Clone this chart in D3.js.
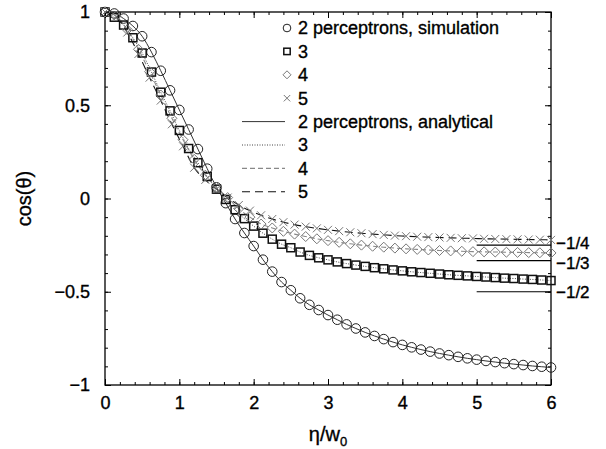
<!DOCTYPE html>
<html><head><meta charset="utf-8">
<script src="https://cdn.jsdelivr.net/npm/d3@7"></script>
<style>body{margin:0;background:#fff} text{font-family:"Liberation Sans",Arial,Helvetica,sans-serif;fill:#000;stroke:#000;stroke-width:0.35px}</style>
</head><body><svg id="c" width="606" height="449"></svg>
<script>
// eta grids (eta / w0)
const etaA = [0,0.125,0.25,0.375,0.5,0.625,0.75,0.875,1,1.125,1.25,1.375,1.5,1.625,1.75,1.875,2,2.125,2.25,2.375,2.5,2.625,2.75,2.875,3,3.125,3.25,3.375,3.5,3.625,3.75,3.875,4,4.125,4.25,4.375,4.5,4.625,4.75,4.875,5,5.125,5.25,5.375,5.5,5.625,5.75,5.875,6];
const etaB = [0,0.15,0.3,0.45,0.6,0.75,0.9,1.05,1.2,1.35,1.5,1.65,1.8,1.95,2.1,2.25,2.4,2.55,2.7,2.85,3,3.15,3.3,3.45,3.6,3.75,3.9,4.05,4.2,4.35,4.5,4.65,4.8,4.95,5.1,5.25,5.4,5.55,5.7,5.85,6];
// cos(theta), simulation (also traced by the analytical curves)
const sim2 = [1.000,0.992,0.965,0.925,0.870,0.785,0.685,0.580,0.475,0.370,0.265,0.160,0.060,-0.025,-0.110,-0.185,-0.255,-0.328,-0.392,-0.448,-0.492,-0.535,-0.570,-0.598,-0.625,-0.650,-0.675,-0.697,-0.718,-0.737,-0.754,-0.770,-0.785,-0.798,-0.810,-0.821,-0.831,-0.840,-0.849,-0.857,-0.864,-0.871,-0.877,-0.883,-0.888,-0.893,-0.898,-0.902,-0.906];
const sim3 = [1.000,0.972,0.930,0.862,0.780,0.678,0.570,0.470,0.365,0.268,0.192,0.118,0.050,-0.005,-0.060,-0.108,-0.148,-0.186,-0.218,-0.245,-0.264,-0.287,-0.305,-0.318,-0.329,-0.340,-0.349,-0.357,-0.364,-0.371,-0.377,-0.383,-0.388,-0.393,-0.397,-0.401,-0.405,-0.409,-0.412,-0.415,-0.418,-0.421,-0.424,-0.427,-0.429,-0.432,-0.434,-0.437,-0.440];
const sim4 = [1.000,0.978,0.905,0.800,0.680,0.555,0.430,0.315,0.210,0.125,0.060,0.005,-0.055,-0.100,-0.137,-0.158,-0.176,-0.191,-0.204,-0.216,-0.226,-0.235,-0.243,-0.250,-0.256,-0.261,-0.266,-0.270,-0.273,-0.276,-0.279,-0.281,-0.283,-0.285,-0.286,-0.287,-0.288,-0.289,-0.290,-0.291,-0.292];
const sim5 = [1.000,0.975,0.890,0.775,0.648,0.525,0.398,0.280,0.165,0.100,0.050,0.005,-0.035,-0.065,-0.090,-0.110,-0.127,-0.140,-0.151,-0.160,-0.168,-0.175,-0.181,-0.186,-0.191,-0.195,-0.199,-0.202,-0.205,-0.207,-0.209,-0.211,-0.213,-0.214,-0.216,-0.217,-0.218,-0.219,-0.220,-0.221,-0.222];
const analytic2 = sim2, analytic3 = sim3, analytic4 = sim4, analytic5 = sim5;
// asymptotes
const asymValues = [-1/4, -1/3, -1/2];
const asymLabels = ["\u22121/4", "\u22121/3", "\u22121/2"];
const asymRange = [5, 6];
// ticks
const xTicks = [0,1,2,3,4,5,6];
const xTickLabels = ["0","1","2","3","4","5","6"];
const yTicks = [-1,-0.5,0,0.5,1];
const yTickLabels = ["\u22121","\u22120.5","0","0.5","1"];
const legendLabels = ["2 perceptrons, simulation","3","4","5","2 perceptrons, analytical","3","4","5"];

const svg = d3.select("#c");
const L=105, R=551, T=12, B=385;
const x = d3.scaleLinear().domain([0,6]).range([L,R]);
const y = d3.scaleLinear().domain([-1,1]).range([B,T]);

// frame
svg.append("rect").attr("x",L).attr("y",T).attr("width",R-L).attr("height",B-T)
  .attr("fill","none").attr("stroke","#000").attr("stroke-width",1.3);

// ticks (inward) via axes
const xMinor = d3.range(0, 6.001, 0.2);
const yMinor = d3.range(-1, 1.001, 0.1);
function tickAxis(axisFn, scale, vals, size, tx, ty){
  const g = svg.append("g").attr("transform",`translate(${tx},${ty})`)
    .call(axisFn(scale).tickValues(vals).tickSize(size).tickFormat(""));
  g.select(".domain").remove();
  g.selectAll("line").attr("stroke","#000").attr("stroke-width",1);
}
tickAxis(d3.axisBottom, x, xMinor, -3, 0, B);
tickAxis(d3.axisBottom, x, xTicks, -6, 0, B);
tickAxis(d3.axisTop, x, xMinor, -3, 0, T);
tickAxis(d3.axisTop, x, xTicks, -6, 0, T);
tickAxis(d3.axisLeft, y, yMinor, -3, L, 0);
tickAxis(d3.axisLeft, y, yTicks, -6, L, 0);
tickAxis(d3.axisRight, y, yMinor, -3, R, 0);
tickAxis(d3.axisRight, y, yTicks, -6, R, 0);

// tick labels
const gx = svg.append("g").attr("transform",`translate(0,${B})`)
  .call(d3.axisBottom(x).tickValues(xTicks).tickSize(0).tickPadding(11).tickFormat((d,i)=>xTickLabels[i]));
gx.select(".domain").remove();
gx.selectAll("text").attr("font-size",18).attr("font-family",null).attr("fill",null);
const gy = svg.append("g").attr("transform",`translate(${L},0)`)
  .call(d3.axisLeft(y).tickValues(yTicks).tickSize(0).tickPadding(15).tickFormat((d,i)=>yTickLabels[i]));
gy.select(".domain").remove();
gy.selectAll("text").attr("font-size",18).attr("font-family",null).attr("fill",null);

// axis titles
const xt = svg.append("text").attr("x",(L+R)/2).attr("y",441).attr("text-anchor","middle").attr("font-size",20);
xt.append("tspan").text("\u03b7/w");
xt.append("tspan").attr("font-size",13).attr("dy",5).text("0");
svg.append("text").attr("transform",`translate(31,${(T+B)/2}) rotate(-90)`)
  .attr("text-anchor","middle").attr("font-size",20).text("cos(\u03b8)");

// analytical lines
const lineStyles = [
  {data:analytic2, eta:etaA, color:"#333", w:1, dash:null},
  {data:analytic3, eta:etaA, color:"#444", w:1, dash:"1,1.5"},
  {data:analytic4, eta:etaB, color:"#888", w:1.1, dash:"5,3"},
  {data:analytic5, eta:etaB, color:"#111", w:1.1, dash:"8,5"}
];
const line = d3.line().curve(d3.curveMonotoneX);
lineStyles.forEach(s=>{
  svg.append("path").attr("d", line(s.eta.map((e,i)=>[x(e), y(s.data[i])])))
    .attr("fill","none").attr("stroke",s.color).attr("stroke-width",s.w)
    .attr("stroke-dasharray",s.dash);
});

// asymptote lines and labels
const labelShift = [-2, 2, 0];
asymValues.forEach((v,i)=>{
  svg.append("line").attr("x1",x(asymRange[0])).attr("x2",x(asymRange[1]))
    .attr("y1",y(v)).attr("y2",y(v)).attr("stroke","#000").attr("stroke-width",1.2);
  svg.append("text").attr("x",R+5).attr("y",y(v)+labelShift[i]).attr("dy","0.35em")
    .attr("font-size",17).text(asymLabels[i]);
});

// markers
const markerDefs = [
  {data:sim2, eta:etaA, kind:"circle", color:"#222", w:1},
  {data:sim3, eta:etaA, kind:"square", color:"#111", w:1.5},
  {data:sim4, eta:etaB, kind:"diamond", color:"#777", w:1},
  {data:sim5, eta:etaB, kind:"x", color:"#777", w:1}
];
function drawMarker(g, kind, cx, cy, color, w, s){
  if(kind==="circle") g.append("circle").attr("cx",cx).attr("cy",cy).attr("r",4.8*s);
  else if(kind==="square") g.append("rect").attr("x",cx-4*s).attr("y",cy-4*s).attr("width",8*s).attr("height",8*s);
  else if(kind==="diamond") g.append("path").attr("d",`M${cx},${cy-5*s}L${cx+5*s},${cy}L${cx},${cy+5*s}L${cx-5*s},${cy}Z`);
  else g.append("path").attr("d",`M${cx-4*s},${cy-4*s}L${cx+4*s},${cy+4*s}M${cx-4*s},${cy+4*s}L${cx+4*s},${cy-4*s}`);
  g.selectAll("*").attr("fill","none").attr("stroke",color).attr("stroke-width",w);
}
markerDefs.forEach(m=>{
  const g = svg.append("g");
  m.eta.forEach((e,i)=>drawMarker(g, m.kind, x(e), y(m.data[i]), m.color, m.w, 1));
});

// legend
const legY0 = 28, legDy = 23.4;
markerDefs.forEach((m,i)=>{
  const g = svg.append("g");
  drawMarker(g, m.kind, 287, legY0+i*legDy, m.color, m.w, 0.8);
});
lineStyles.forEach((s,i)=>{
  const yy = legY0+(i+4)*legDy;
  svg.append("line").attr("x1",242).attr("x2",285).attr("y1",yy).attr("y2",yy)
    .attr("stroke",s.color).attr("stroke-width",s.w).attr("stroke-dasharray",s.dash);
});
legendLabels.forEach((t,i)=>{
  svg.append("text").attr("x",298).attr("y",legY0+i*legDy).attr("dy","0.36em")
    .attr("font-size",18).text(t);
});
</script></body></html>
